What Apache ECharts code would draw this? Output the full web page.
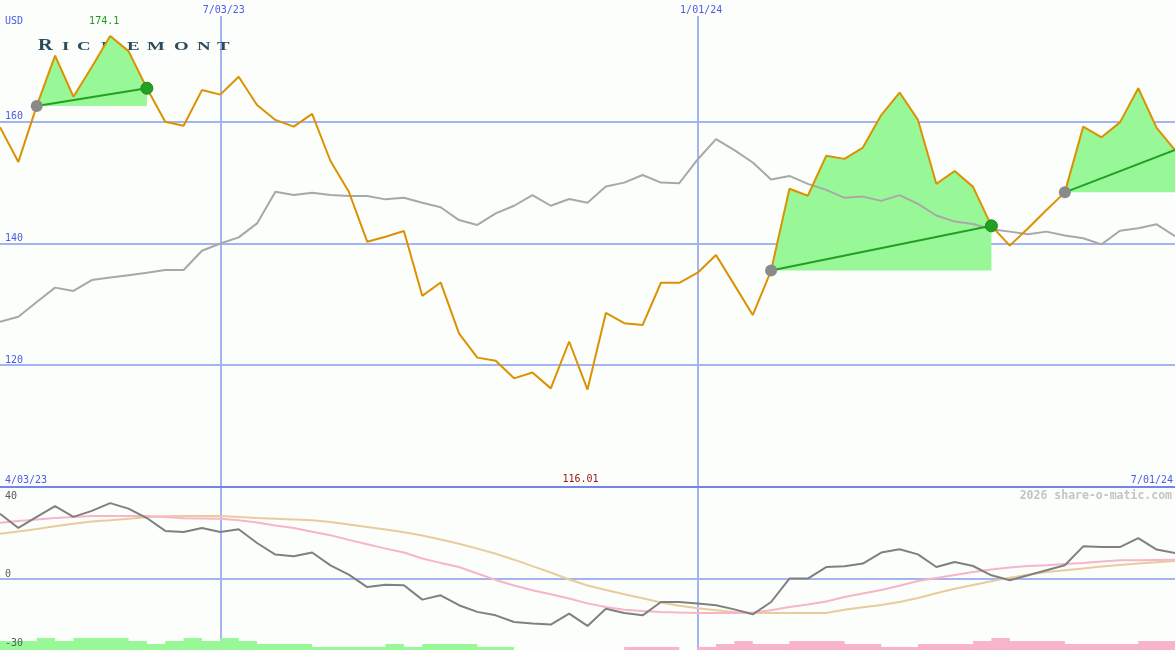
<!DOCTYPE html>
<html><head><meta charset="utf-8">
<script src="https://cdn.jsdelivr.net/npm/echarts@6/dist/echarts.min.js"></script>
<style>html,body{margin:0;padding:0;background:#fbfefb}#c{width:1175px;height:650px}</style>
</head><body><div id="c"></div>
<script>
const dates = ['4/10/23','4/17/23','4/24/23','5/01/23','5/08/23','5/15/23','5/22/23','5/29/23','6/05/23','6/12/23','6/19/23','6/26/23',
'7/03/23','7/10/23','7/17/23','7/24/23','7/31/23','8/07/23','8/14/23','8/21/23','8/28/23','9/04/23','9/11/23','9/18/23','9/25/23',
'10/02/23','10/09/23','10/16/23','10/23/23','10/30/23','11/06/23','11/13/23','11/20/23','11/27/23','12/04/23','12/11/23','12/18/23','12/25/23',
'1/01/24','1/08/24','1/15/24','1/22/24','1/29/24','2/05/24','2/12/24','2/19/24','2/26/24','3/04/24','3/11/24','3/18/24','3/25/24',
'4/01/24','4/08/24','4/15/24','4/22/24','4/29/24','5/06/24','5/13/24','5/20/24','5/27/24','6/03/24','6/10/24','6/17/24','6/24/24','7/01/24'];
const price = [159.1,153.4,162.6,170.85,164.1,169.0,174.1,171.6,165.5,160.0,159.35,165.2,164.45,167.4,162.75,160.3,159.2,161.3,153.55,148.5,
140.3,141.1,142.05,131.4,133.6,125.25,121.25,120.75,117.85,118.8,116.2,123.9,116.01,128.6,126.9,126.6,133.55,133.55,135.2,138.1,
133.2,128.25,135.55,149.0,147.85,154.4,153.9,155.75,161.1,164.8,160.3,149.8,151.9,149.3,142.9,139.65,142.5,145.5,148.4,159.2,
157.45,159.9,165.5,159.0,155.35];
const compare = [127.15,127.97,130.4,132.75,132.2,134.0,134.4,134.8,135.2,135.65,135.65,138.8,140.0,141.0,143.3,148.5,147.95,148.35,147.95,147.8,
147.8,147.25,147.5,146.7,145.95,143.85,143.05,144.95,146.2,147.95,146.2,147.3,146.7,149.35,150.0,151.25,150.0,149.9,153.8,157.15,
155.35,153.3,150.5,151.1,149.8,148.8,147.5,147.7,147.0,147.95,146.5,144.6,143.6,143.2,142.35,141.95,141.5,141.95,141.3,140.85,
139.85,142.1,142.5,143.15,141.2];
const oscMain = [28.4,22.2,27.0,31.7,27.0,29.6,33.0,30.6,26.5,20.9,20.4,22.2,20.4,21.6,15.65,10.6,9.9,11.5,5.95,1.9,
-3.5,-2.45,-2.75,-8.96,-7.1,-11.4,-14.3,-15.8,-18.7,-19.4,-19.8,-15.05,-20.4,-12.9,-14.8,-15.8,-10.0,-10.0,-10.7,-11.4,
-13.2,-15.35,-10.0,0.2,0.2,5.2,5.5,6.7,11.5,12.9,10.7,5.2,7.4,5.65,1.6,-0.56,1.6,3.8,5.95,14.2,13.9,13.9,17.8,12.8,11.3];
const oscPink = [24.5,25.2,25.9,26.5,27.0,27.4,27.4,27.4,27.4,27.0,26.4,26.3,26.2,25.5,24.6,23.3,22.2,20.5,19.0,17.0,
15.1,13.2,11.5,8.9,7.0,5.2,2.4,-0.4,-2.8,-4.9,-6.65,-8.5,-10.6,-12.2,-13.4,-13.9,-14.3,-14.6,-14.8,-14.8,
-14.8,-14.6,-13.6,-12.2,-11.1,-9.8,-7.8,-6.3,-4.8,-2.9,-0.9,0.4,1.7,3.0,4.1,5.0,5.6,6.0,6.5,7.0,7.6,8.1,8.2,8.3,8.4];
const oscTan = [19.7,20.7,21.7,22.9,24.0,25.0,25.5,26.2,26.8,27.3,27.4,27.4,27.4,27.0,26.5,26.2,25.9,25.5,24.8,23.7,
22.6,21.5,20.3,18.9,17.2,15.3,13.2,11.0,8.4,5.6,2.8,-0.2,-2.8,-4.8,-6.6,-8.4,-10.2,-11.6,-12.7,-13.6,
-14.3,-14.8,-14.8,-14.8,-14.8,-14.8,-13.4,-12.3,-11.3,-10.0,-8.3,-6.2,-4.2,-2.6,-1.0,0.6,1.9,3.0,3.8,4.6,5.4,6.1,6.7,7.3,7.8];
const volUp = [3,3,4,3,4,4,4,3,2,3,4,3,4,3,2,2,2,1,1,1,1,2,1,2,2,2,1,1,
null,null,null,null,null,null,null,null,null,null,null,null,null,null,null,null,null,null,null,null,null,null,
null,null,null,null,null,null,null,null,null,null,null,null,null,null,null];
const volDown = [null,null,null,null,null,null,null,null,null,null,null,null,null,null,null,null,null,null,null,null,
null,null,null,null,null,null,null,null,null,null,null,null,null,null,1,1,1,null,1,2,
3,2,2,3,3,3,2,2,1,1,2,2,2,3,4,3,3,3,2,2,2,2,3,3,3];
const trendStarts = [2, 42, 58];
const trendEnds = [8, 54, 64];
const gridDates = ['7/03/23', '1/01/24'];
const priceTicks = [120, 140, 160];
const oscTicks = [40, 0, -30];
const rangeLabels = ['4/03/23', '7/01/24'];
const currency = 'USD';
const brand = 'RICHEMONT';
const credit = '2026 share-o-matic.com';

const BLUE = '#4b5be6', GRIDC = '#a4b4f2', OSCLAB = '#5a5a5a', FONT = '"DejaVu Sans Mono", monospace';
const chart = echarts.init(document.getElementById('c'), null, {renderer: 'canvas'});

const series = [];
trendStarts.forEach((s, k) => {
  const e = trendEnds[k];
  series.push({type: 'line', xAxisIndex: 0, yAxisIndex: 0, symbol: 'none', silent: true, z: 2,
    data: price.map((v, i) => (i >= s && i <= e) ? v : null),
    lineStyle: {width: 0}, areaStyle: {color: '#98f898', opacity: 1, origin: price[s]}});
});
series.push({type: 'line', name: 'compare', xAxisIndex: 0, yAxisIndex: 0, symbol: 'none', silent: true, z: 3,
  data: compare, lineStyle: {color: '#a8a8a8', width: 2}});
const minVal = Math.min(...price), minIdx = price.indexOf(minVal);
series.push({type: 'line', name: 'price', xAxisIndex: 0, yAxisIndex: 0, symbol: 'none', silent: true, z: 5,
  data: price, lineStyle: {color: '#dc9200', width: 2},
  markPoint: {symbol: 'rect', symbolSize: 1, itemStyle: {color: 'rgba(0,0,0,0)'}, silent: true,
    data: [
      {type: 'max', label: {show: true, position: 'inside', offset: [-6, -15], color: '#1c9a1c', fontFamily: FONT, fontSize: 10, formatter: p => String(p.value)}},
      {coord: [dates[minIdx], 101.3], value: minVal, label: {show: true, position: 'inside', offset: [-7, 0], color: '#a01818', fontFamily: FONT, fontSize: 10, formatter: p => minVal.toFixed(2)}}
    ]}});
trendStarts.forEach((s, k) => {
  const e = trendEnds[k];
  const data = price.map(() => null);
  data[s] = {value: price[s], symbol: 'circle', symbolSize: 12, itemStyle: {color: '#8a8a8a'}};
  data[e] = {value: price[e], symbol: e < price.length - 1 ? 'circle' : 'none', symbolSize: 12, itemStyle: {color: '#22a022', borderColor: '#178a17', borderWidth: 1}};
  series.push({type: 'line', xAxisIndex: 0, yAxisIndex: 0, connectNulls: true, showSymbol: true, silent: true, z: 6,
    data, lineStyle: {color: '#22a022', width: 2}});
});
series.push({type: 'line', xAxisIndex: 1, yAxisIndex: 1, symbol: 'none', silent: true, z: 3, data: oscTan, lineStyle: {color: '#e8cc9c', width: 2}});
series.push({type: 'line', xAxisIndex: 1, yAxisIndex: 1, symbol: 'none', silent: true, z: 3, data: oscPink, lineStyle: {color: '#f8b4c8', width: 2}});
series.push({type: 'line', xAxisIndex: 1, yAxisIndex: 1, symbol: 'none', silent: true, z: 4, data: oscMain, lineStyle: {color: '#808080', width: 2}});
series.push({type: 'line', xAxisIndex: 2, yAxisIndex: 3, step: 'end', symbol: 'none', silent: true, z: 2, data: volUp,
  lineStyle: {width: 0}, areaStyle: {color: '#98f898', opacity: 1}});
series.push({type: 'line', xAxisIndex: 2, yAxisIndex: 3, step: 'end', symbol: 'none', silent: true, z: 2, data: volDown,
  lineStyle: {width: 0}, areaStyle: {color: '#f8b4c8', opacity: 1}});

const isGridDate = (i, v) => gridDates.indexOf(v) >= 0;
const logoX = [38, 62, 77, 101, 127, 147, 174, 197, 217];
const graphic = [
  {type: 'text', x: 5, y: 21, z: 10, style: {text: currency, fill: BLUE, font: '10px ' + FONT, verticalAlign: 'middle'}},
  {type: 'text', x: 5, y: 480, z: 10, style: {text: rangeLabels[0], fill: BLUE, font: '10px ' + FONT, verticalAlign: 'middle'}},
  {type: 'text', x: 1173, y: 480, z: 10, style: {text: rangeLabels[1], fill: BLUE, font: '10px ' + FONT, verticalAlign: 'middle', align: 'right'}},
  {type: 'text', x: 1172, y: 496, z: 10, style: {text: credit, fill: '#c4c4c4', font: 'bold 11.5px ' + FONT, verticalAlign: 'middle', align: 'right'}}
];
brand.split('').forEach((ch, i) => {
  graphic.push({type: 'text', x: logoX[i], y: i === 0 ? 54 : 53, scaleX: i === 0 ? 1.2 : 1.45, z: 1,
    style: {text: ch, fill: '#2b4a5c', font: (i === 0 ? 'bold 17px' : 'bold 13px') + ' "Liberation Serif", serif', verticalAlign: 'bottom'}});
});

chart.setOption({
  backgroundColor: '#fbfefb',
  animation: false,
  grid: [
    {left: 0, right: 0, top: 16, height: 471},
    {left: 0, right: 0, top: 487, height: 161},
    {left: 0, right: 0, top: 487, height: 163}
  ],
  xAxis: [
    {type: 'category', gridIndex: 0, data: dates, boundaryGap: false, position: 'top',
      axisLine: {show: false}, axisTick: {show: false},
      axisLabel: {interval: isGridDate, color: BLUE, fontFamily: FONT, fontSize: 10, margin: 1, padding: [0, 0, 0, 7]},
      splitLine: {show: true, interval: isGridDate, lineStyle: {color: GRIDC, width: 2}}},
    {type: 'category', gridIndex: 1, data: dates, boundaryGap: false,
      axisLine: {show: true, onZero: true, lineStyle: {color: GRIDC, width: 2}}, axisTick: {show: false}, axisLabel: {show: false}, splitLine: {show: false}},
    {type: 'category', gridIndex: 2, data: dates, boundaryGap: false, position: 'top',
      axisLine: {show: true, onZero: false, lineStyle: {color: '#7484ea', width: 2}}, axisTick: {show: false}, axisLabel: {show: false},
      splitLine: {show: true, interval: isGridDate, lineStyle: {color: GRIDC, width: 2}}}
  ],
  yAxis: [
    {type: 'value', gridIndex: 0, min: 100, max: 177.37, interval: 20,
      axisLine: {show: false}, axisTick: {show: false},
      axisLabel: {inside: true, margin: 5, showMaxLabel: false, verticalAlign: 'bottom', color: BLUE, fontFamily: FONT, fontSize: 10,
        formatter: v => priceTicks.indexOf(v) >= 0 ? String(v) : ''},
      splitLine: {show: true, showMaxLine: false, lineStyle: {color: GRIDC, width: 2}}},
    {type: 'value', gridIndex: 1, min: -30, max: 40, interval: 10, z: 10,
      axisLine: {show: false}, axisTick: {show: false}, splitLine: {show: false},
      axisLabel: {inside: true, margin: 5, verticalAlign: 'bottom', color: OSCLAB, fontFamily: FONT, fontSize: 10,
        formatter: v => (oscTicks.indexOf(v) >= 0 && v !== oscTicks[0]) ? String(v) : ''}},
    {type: 'value', gridIndex: 1, min: -30, max: 40, interval: 10, position: 'left', z: 10,
      axisLine: {show: false}, axisTick: {show: false}, splitLine: {show: false},
      axisLabel: {inside: true, margin: 5, verticalAlign: 'top', padding: [4, 0, 0, 0], color: OSCLAB, fontFamily: FONT, fontSize: 10,
        formatter: v => v === oscTicks[0] ? String(v) : ''}},
    {type: 'value', gridIndex: 2, min: 0, max: 54.33, show: false, splitLine: {show: false}}
  ],
  graphic,
  series
});
</script></body></html>
